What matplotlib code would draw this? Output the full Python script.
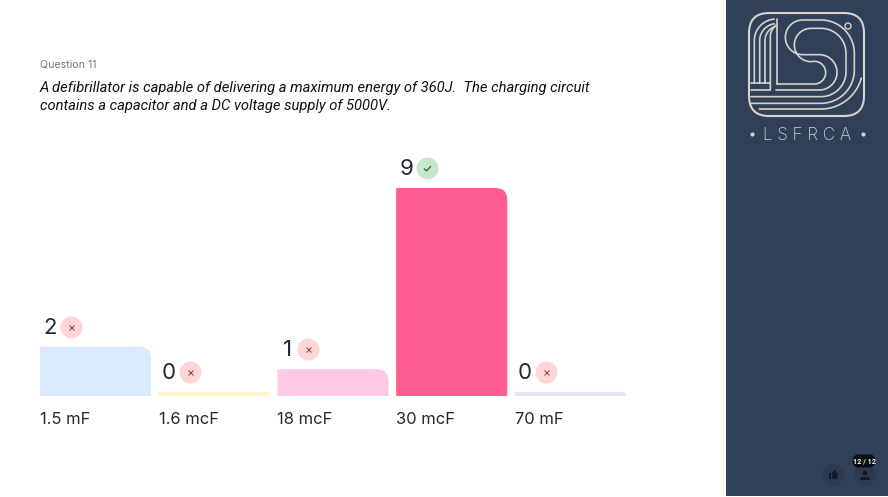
import matplotlib
matplotlib.use("Agg")
import numpy as np
import matplotlib.pyplot as plt
from matplotlib.patches import PathPatch, Rectangle, FancyBboxPatch, Circle, Polygon
from matplotlib.path import Path
from matplotlib.transforms import offset_copy

# chart data
answers = ["1.5 mF", "1.6 mcF", "18 mcF", "30 mcF", "70 mF"]
votes = [2, 0, 1, 9, 0]
correct = [False, False, False, True, False]
bar_colors = ["#DAE9FB", "#FFF3C9", "#FFC9E6", "#FF5C91", "#E5E3F5"]

question_no = "Question 11"
question_lines = ["A defibrillator is capable of delivering a maximum energy of 360J.  The charging circuit",
                  "contains a capacitor and a DC voltage supply of 5000V."]

W, H = 888, 497
PANEL = "#2F4058"
LOGO = "#D6D3CB"
FONT = "Inter"
ITALIC = "Roboto"
stub = 0.18      # zero answers still get a thin bar
bar_w = 0.936

fig = plt.figure(figsize=(W / 100, H / 100), dpi=100, facecolor="white")

# bar chart, axes box is pixels 40-626 across, 188-396 down
ax = fig.add_axes([40 / W, 1 - 396 / H, 586 / W, 208 / H])
ax.set_xlim(-bar_w / 2, 4 + bar_w / 2)
ax.set_ylim(0, max(votes) + stub)
ax.axis("off")
ax.patch.set_alpha(0)

px_x = (4 + bar_w) / 586
px_y = (max(votes) + stub) / 208


def round_top_bar(x, top, color):
    # only the top right corner is rounded
    left = x - bar_w / 2
    right = x + bar_w / 2
    r = min(12, top / px_y)
    rx = r * px_x
    ry = r * px_y
    verts = [(left, 0), (left, top), (right - rx, top), (right, top), (right, top - ry), (right, 0), (left, 0)]
    codes = [Path.MOVETO, Path.LINETO, Path.LINETO, Path.CURVE3, Path.CURVE3, Path.LINETO, Path.CLOSEPOLY]
    ax.add_patch(PathPatch(Path(verts, codes), facecolor=color, edgecolor="none"))


check_mark = Path([(-1, 0), (-0.3, -0.7), (1, 0.7)])

for i, v in enumerate(votes):
    top = v + stub
    left = i - bar_w / 2
    round_top_bar(i, top, bar_colors[i])
    ax.annotate(str(v), xy=(left, top), xytext=(10, 19), textcoords="offset pixels",
                ha="center", va="center", fontsize=16, color="#222733", family=FONT)
    tr = offset_copy(ax.transData, fig=fig, x=31, y=20, units="dots")
    if correct[i]:
        ax.plot([left], [top], "o", ms=15.8, color="#C8E6C9", mec="none", transform=tr, clip_on=False)
        ax.plot([left], [top], marker=check_mark, ms=5, mfc="none", mec="#2f4a35", mew=0.8,
                transform=tr, clip_on=False)
    else:
        ax.plot([left], [top], "o", ms=15.8, color="#FFD6D6", mec="none", transform=tr, clip_on=False)
        ax.plot([left], [top], "x", ms=3.6, mec="#8a4048", mew=0.7, transform=tr, clip_on=False)

for i, label in enumerate(answers):
    ax.annotate(label, xy=(i - bar_w / 2, 0), xytext=(0, -24), textcoords="offset pixels",
                ha="left", va="center", fontsize=11.9, color="#222733", family=FONT)

# question text
fig.text(40 / W, 1 - 65 / H, question_no, fontsize=7.6, color="#777777", family=FONT, va="center")
for line, y in zip(question_lines, [88, 106]):
    fig.text(40 / W, 1 - y / H, line, fontsize=10.6, style="italic", color="#111111",
             family=ITALIC, va="center")

# side panel, in pixel coordinates
over = fig.add_axes([0, 0, 1, 1], zorder=5)
over.set_xlim(0, W)
over.set_ylim(H, 0)
over.axis("off")
over.patch.set_alpha(0)
over.add_patch(Rectangle((726, 0), W - 726, 496, facecolor=PANEL, edgecolor="none"))


def arc(cx, cy, r, a0, a1):
    # angles in degrees, y pointing down
    t = np.radians(np.linspace(a0, a1, 24))
    return list(zip(cx + r * np.cos(t), cy + r * np.sin(t)))


def logo_line(pts, lw=1.2):
    # points are in the coordinates of the 3x logo crop
    pts = [(726 + p[0] / 3, p[1] / 3) for p in pts]
    over.add_patch(PathPatch(Path(pts), facecolor="none", edgecolor=LOGO, lw=lw,
                             capstyle="round", joinstyle="round"))


over.add_patch(FancyBboxPatch((749 + 20, 13 + 20), 115 - 40, 103 - 40, boxstyle="round,pad=20,rounding_size=20",
                              facecolor="none", edgecolor=LOGO, lw=1.5))
over.add_patch(Circle((848, 26), 3, facecolor="none", edgecolor=LOGO, lw=1.0))

# left fan of the L
logo_line([(85, 250)] + arc(150, 122, 65, 180, 265))
logo_line([(101, 250)] + arc(152, 122, 51, 180, 262))
logo_line([(117, 250)] + arc(162, 122, 45, 180, 250))
logo_line([(133, 270)] + arc(175, 110, 42, 180, 235))
logo_line([(152, 58), (152, 252)])
logo_line([(75, 250), (133, 250)])
logo_line([(75, 270), (133, 270)])
# the two S strokes
logo_line([(152, 252)] + arc(265, 218, 34, 90, -90) + arc(255, 135, 50, 90, 270)
          + arc(285, 160, 75, -90, 0) + arc(285, 215, 75, 0, 90) + [(75, 290)])
logo_line([(150, 270)] + arc(280, 217, 53, 90, -90) + arc(230, 112, 52, 90, 270)
          + arc(285, 160, 100, -90, 0) + arc(285, 210, 100, 0, 90) + [(75, 310)])
logo_line([(100, 327)] + arc(285, 202, 125, 90, 15))

over.text(807, 135, "L S F R C A", fontsize=12.3, color=LOGO, family="Inter", ha="center", va="center",
          fontweight="light")
over.plot([752, 863], [134, 134], "o", ms=2, color=LOGO)

# bottom right buttons
over.add_patch(Circle((833, 475), 11, facecolor="#2B3A51", edgecolor="none"))
over.add_patch(Circle((865, 475), 11, facecolor="#2B3A51", edgecolor="none"))
over.add_patch(Rectangle((829, 473), 2, 6, facecolor="#14181f", edgecolor="none"))
over.add_patch(Polygon([(832, 473), (835, 469), (836, 473), (838, 473), (837, 479), (832, 479)],
                       facecolor="#14181f", edgecolor="none"))
over.add_patch(Circle((865, 473), 2.3, facecolor="#14181f", edgecolor="none"))
over.add_patch(Polygon([(860, 480), (861, 477), (869, 477), (870, 480)], facecolor="#14181f", edgecolor="none"))
over.add_patch(FancyBboxPatch((856, 458), 16, 6, boxstyle="round,pad=0,rounding_size=2.5", mutation_scale=1,
                              facecolor="#0c0e12", edgecolor="#0c0e12", lw=5))
over.text(864, 461, "12 / 12", fontsize=5.2, fontweight="bold", color="white", family="Roboto",
          ha="center", va="center")

fig.savefig("out.png", dpi=100, facecolor="white")
